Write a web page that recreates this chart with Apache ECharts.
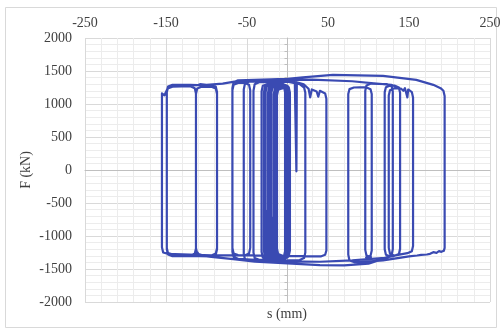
<!DOCTYPE html>
<html><head><meta charset="utf-8">
<script src="https://cdn.jsdelivr.net/npm/echarts@6/dist/echarts.min.js"></script>
<style>html,body{margin:0;padding:0;background:#fff}#c{width:501px;height:331px}</style>
</head><body><div id="c"></div>
<script>
// ---- data (s in mm, F in kN) ----
const xTickLabels = ['-250', '-150', '-50', '50', '150', '250'];
const yTickLabels = ['-2000', '-1500', '-1000', '-500', '0', '500', '1000', '1500', '2000'];
const xTitle = 's (mm)';
const yTitle = 'F (kN)';

// small loops near the centre
const centreLoops = [
  [-6,-1300],[-11.5,-1275],[-13,-1190],[-13,1130],[-11.5,1215],[-6,1240],[-4,1240],[1.5,1215],[3,1130],[3,-1190],[1.5,-1280],[-4,-1310],
  [-10,-1320],[-15.5,-1295],[-17,-1210],[-17,1150],[-15.5,1235],[-10,1260],[-7,1262],[-1.5,1235],[0,1150],[0,-1210],[-1.5,-1295],[-7,-1325],
  [-9,-1322],[-13.5,-1300],[-15,-1220],[-15,1160],[-13.5,1240],[-9,1262],[-6,1262],[-2.5,1240],[-1,1160],[-1,-1220],[-2.5,-1300],[-6,-1328],
  [-13,-1326],[-18.5,-1302],[-20,-1222],[-20,1165],[-18.5,1248],[-13,1272],[-8,1274],[-3.5,1248],[-2,1165],[-2,-1222],[-3.5,-1302],[-8,-1330],
  [-15,-1330],[-17,-1332],[-17.5,-720],[-18,-1330],[-20.5,-1305],[-22,-1220],[-22,1170],[-20.5,1255],[-15,1280],[-4,1285],[1.5,1255],[3,1170],[3,-1220],[1.5,-1305],[-4,-1335],
  [-17,-1336],[-22.5,-1312],[-24,-1228],[-24,1175],[-22.5,1260],[-17,1286],[-5,1288],[0.5,1260],[2,1175],[2,-1228],[0.5,-1312],[-5,-1340],
  [-20,-1340],[-25.5,-1315],[-27,-1230],[-27,1180],[-25.5,1265],[-20,1290],[-10,1292],[-4.5,1265],[-3,1180],[-3,-1230],[-4.5,-1315],[-10,-1345],
  [-22,-1340],[-27.5,-1318],[-29,-1235],[-29,1185],[-27.5,1270],[-22,1295],[-5,1298],[0.5,1270],[2,1185],[2,-1235],[0.5,-1320],[-5,-1348],
  [-22,-1348],[-24,-1350],[-24.5,-620],[-25,-1350],[-30.5,-1325],[-32,-1240],[-32,1190],[-30.5,1275],[-25,1300],[-7,1305],[-1.5,1275],[0,1190],[0,-1240],[-1.5,-1325],[-7,-1355],
  [-35,-1360],[-40.5,-1335],[-42,-1250],[-42,1200],[-40.5,1300],[-35,1330],[0,1340],[15,1300],[20.5,1250],[22,1170],[22,-1250],[20.5,-1335],[15,-1365],
  [-20,-1375],[-47,-1380],[-52.5,-1355],[-54,-1270],[-54,1220],[-52.5,1310],[-47,1340],[-20,1350],[9,1345],[10.5,1340],[11,-20],[11.5,1330],[20,1300],[26,1230],[28,1100],[30,1220],[36,1190],[38,1110],[40,1200],[41,1200],[46.5,1160],[48,1080],[48,-1220],[46.5,-1285],[41,-1310]
];

// loops on the negative side
const leftLoops = [
  [-61,-1290],[-66.5,-1265],[-68,-1180],[-68,1210],[-66.5,1290],[-61,1320],[-53,1320],[-47.5,1290],[-46,1210],[-46,-1180],[-47.5,-1265],[-53,-1295],
  [-106,-1290],[-111.5,-1265],[-113,-1180],[-113,1150],[-111.5,1235],[-106,1260],[-94,1262],[-88.5,1235],[-87,1150],[-87,-1180],[-88.5,-1265],[-94,-1295],
  [-148,-1270],[-153.5,-1250],[-155,-1170],[-155,1160],[-153.5,1175],[-152,1130],[-150.5,1170],[-148,1235],[-142,1262],[-120,1270],[-114.5,1240],[-113,1160],[-113,-1190],[-114.5,-1270],[-120,-1300],
  [-142,-1305],[-147.5,-1280],[-149,-1200],[-149,1190],[-147.5,1265],[-142,1290],[-120,1292],[-111,1285],[-108,1300],[-100,1290],[-94,1288],[-88.5,1260],[-87,1180],[-87,-1200],[-88.5,-1280],[-94,-1310],[-108,-1305],[-111,-1250],[-114,-1305]
];

// two large loops
const largeLoops = [
  [-142,-1290],[-147.5,-1265],[-149,-1180],[-149,1180],[-147.5,1250],[-142,1275],[-100,1290],[-80,1310],[-60,1350],[-20,1365],[30,1370],[80,1345],[110,1310],[128,1290],[137.5,1250],[139,1170],[139,-1200],[137.5,-1280],[132,-1300],[120,-1330],[80,-1370],[40,-1390],[0,-1385],[-40,-1360],[-61,-1345],
  [-66.5,-1320],[-68,-1240],[-68,1240],[-66.5,1330],[-61,1360],[0,1380],[19,1404],[56,1440],[118,1425],[159,1365],[180,1290],[189,1240],[192.5,1200],[194,1120],[194,-1180],[193,-1225],[190,-1240],[187,-1230],[184,-1255],[180,-1245],[176,-1270],[172,-1280],[165,-1285],[160,-1295],[150,-1310],[118,-1370],[90,-1395],[82,-1395]
];

// loops on the positive side and final return
const rightLoops = [
  [76.5,-1370],[75,-1280],[75,1150],[76.5,1225],[82,1250],[97,1255],[102.5,1225],[104,1150],[104,-1220],[102.5,-1300],[97,-1325],
  [103,-1320],[97.5,-1295],[96,-1210],[96,1200],[97.5,1280],[103,1310],[123,1300],[128.5,1270],[130,1190],[130,-1200],[128.5,-1290],[123,-1315],
  [127,-1310],[121.5,-1285],[120,-1200],[120,1180],[121.5,1255],[127,1280],[132,1280],[137.5,1250],[139,1170],[139,-1190],[137.5,-1275],[132,-1300],
  [132,-1290],[126.5,-1265],[125,-1180],[125,1130],[126.5,1210],[132,1240],[140,1235],[143,1200],[145,1240],[147,1230],[148,1100],[149,1220],[151,1200],[153.5,1180],[155,1100],[155,-1150],[153.5,-1230],[148,-1260],
  [130,-1300],[100,-1420],[70,-1445],[40,-1440],[0,-1415],[-40,-1390],[-67,-1350],[-100,-1310],[-140,-1285],[-147.5,-1260],[-149,-1180],[-149,0]
];

// ---- chart ----
const path = [].concat(centreLoops, leftLoops, largeLoops, rightLoops);
const labelFont = { fontFamily: 'Liberation Serif', fontSize: 14, color: '#404040' };
const chart = echarts.init(document.getElementById('c'), null, { renderer: 'canvas' });
chart.setOption({
  animation: false,
  backgroundColor: '#ffffff',
  grid: { left: 85, right: 11, top: 38, bottom: 29, containLabel: false, outerBoundsMode: 'none' },
  xAxis: [
    { // data axis, its line drawn through F = 0
      type: 'value', min: -250, max: 250, position: 'bottom',
      axisLine: { show: true, onZero: true, onZeroAxisIndex: 0, lineStyle: { color: '#bfbfbf', width: 1 } },
      axisTick: { show: false }, axisLabel: { show: false }, splitLine: { show: false }
    },
    { // display axis: labels on top
      type: 'value', min: 0, max: 500, interval: 100, position: 'top',
      axisLine: { show: false, onZero: false }, axisTick: { show: false },
      axisLabel: Object.assign({ margin: 8, formatter: (v, i) => xTickLabels[i] }, labelFont),
      splitLine: { show: true, lineStyle: { color: '#d9d9d9', width: 1 } },
      minorTick: { show: false, splitNumber: 5 },
      minorSplitLine: { show: true, lineStyle: { color: '#ececec', width: 1 } }
    }
  ],
  yAxis: [
    {
      type: 'value', min: -2000, max: 2000, interval: 500, position: 'left',
      axisLine: { show: false, onZero: false }, axisTick: { show: false },
      axisLabel: Object.assign({ margin: 13, formatter: (v, i) => yTickLabels[i] }, labelFont),
      splitLine: { show: true, lineStyle: { color: '#d9d9d9', width: 1 } },
      minorTick: { show: false, splitNumber: 5 },
      minorSplitLine: { show: true, lineStyle: { color: '#ececec', width: 1 } }
    },
    { // axis line through s = 0
      type: 'value', min: -2000, max: 2000, interval: 500, position: 'left',
      axisLine: { show: true, onZero: true, onZeroAxisIndex: 0, lineStyle: { color: '#bfbfbf', width: 1 } },
      axisTick: { show: false }, axisLabel: { show: false }, splitLine: { show: false },
      minorTick: { show: true, splitNumber: 5, length: 3, lineStyle: { color: '#bfbfbf' } }
    }
  ],
  graphic: [
    { type: 'rect', shape: { x: 5.5, y: 7.5, width: 491, height: 320 }, style: { fill: 'none', stroke: '#d9d9d9', lineWidth: 1 }, silent: true, z: -10 },
    { type: 'text', x: 287, y: 314, style: { text: xTitle, align: 'center', verticalAlign: 'middle', font: '14px "Liberation Serif"', fill: '#404040' } },
    { type: 'text', x: 26, y: 170, rotation: Math.PI / 2, style: { text: yTitle, align: 'center', verticalAlign: 'middle', font: '14px "Liberation Serif"', fill: '#404040' } }
  ],
  series: [{
    type: 'line', xAxisIndex: 0, yAxisIndex: 0, data: path,
    showSymbol: false, symbol: 'none', smooth: false, z: 5,
    lineStyle: { color: '#3a4ab2', width: 2.2, join: 'round' }
  }]
});
</script></body></html>
